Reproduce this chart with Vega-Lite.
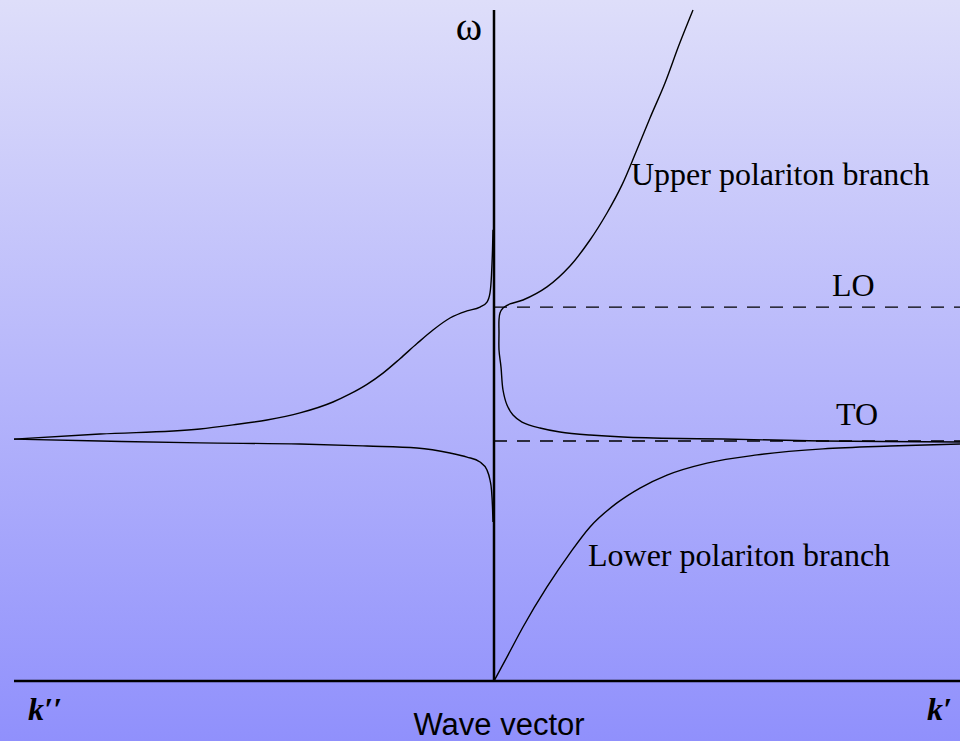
{
  "$schema": "https://vega.github.io/schema/vega-lite/v6.json",
  "width": 960,
  "height": 741,
  "padding": 0,
  "autosize": {"type": "none"},
  "config": {"view": {"stroke": null}},
  "datasets": {
    "upper": [
      {"i": 1, "k": 1.99, "w": 2.796},
      {"i": 2, "k": 1.85, "w": 2.65},
      {"i": 3, "k": 1.71, "w": 2.492},
      {"i": 4, "k": 1.56, "w": 2.346},
      {"i": 5, "k": 1.42, "w": 2.204},
      {"i": 6, "k": 1.28, "w": 2.067},
      {"i": 7, "k": 1.13, "w": 1.95},
      {"i": 8, "k": 0.96, "w": 1.8375},
      {"i": 9, "k": 0.76, "w": 1.729},
      {"i": 10, "k": 0.53, "w": 1.642},
      {"i": 11, "k": 0.29, "w": 1.5875},
      {"i": 12, "k": 0.16, "w": 1.571},
      {"i": 13, "k": 0.09, "w": 1.554},
      {"i": 14, "k": 0.06, "w": 1.533},
      {"i": 15, "k": 0.05, "w": 1.504},
      {"i": 16, "k": 0.05, "w": 1.45},
      {"i": 17, "k": 0.05, "w": 1.379},
      {"i": 18, "k": 0.07, "w": 1.308},
      {"i": 19, "k": 0.09, "w": 1.2125},
      {"i": 20, "k": 0.13, "w": 1.15},
      {"i": 21, "k": 0.19, "w": 1.108},
      {"i": 22, "k": 0.28, "w": 1.079},
      {"i": 23, "k": 0.46, "w": 1.054},
      {"i": 24, "k": 0.66, "w": 1.0375},
      {"i": 25, "k": 0.96, "w": 1.025},
      {"i": 26, "k": 1.29, "w": 1.0167},
      {"i": 27, "k": 1.86, "w": 1.0104},
      {"i": 28, "k": 2.29, "w": 1.0083},
      {"i": 29, "k": 3.29, "w": 1.0},
      {"i": 30, "k": 4.66, "w": 0.996}
    ],
    "others": [
      {"series": "lower", "k": 0, "w": 0},
      {"series": "lower", "k": 0.14, "w": 0.108},
      {"series": "lower", "k": 0.29, "w": 0.225},
      {"series": "lower", "k": 0.53, "w": 0.392},
      {"series": "lower", "k": 0.76, "w": 0.533},
      {"series": "lower", "k": 0.96, "w": 0.642},
      {"series": "lower", "k": 1.23, "w": 0.742},
      {"series": "lower", "k": 1.46, "w": 0.804},
      {"series": "lower", "k": 1.73, "w": 0.858},
      {"series": "lower", "k": 2.13, "w": 0.908},
      {"series": "lower", "k": 2.63, "w": 0.942},
      {"series": "lower", "k": 3.29, "w": 0.967},
      {"series": "lower", "k": 3.96, "w": 0.979},
      {"series": "lower", "k": 4.66, "w": 0.9875},
      {"series": "imag_up", "k": -4.8, "w": 1.008},
      {"series": "imag_up", "k": -3.94, "w": 1.029},
      {"series": "imag_up", "k": -2.94, "w": 1.05},
      {"series": "imag_up", "k": -2.61, "w": 1.067},
      {"series": "imag_up", "k": -2.27, "w": 1.0875},
      {"series": "imag_up", "k": -1.94, "w": 1.117},
      {"series": "imag_up", "k": -1.61, "w": 1.1625},
      {"series": "imag_up", "k": -1.44, "w": 1.196},
      {"series": "imag_up", "k": -1.27, "w": 1.236},
      {"series": "imag_up", "k": -1.11, "w": 1.283},
      {"series": "imag_up", "k": -0.94, "w": 1.343},
      {"series": "imag_up", "k": -0.77, "w": 1.406},
      {"series": "imag_up", "k": -0.61, "w": 1.4625},
      {"series": "imag_up", "k": -0.44, "w": 1.5125},
      {"series": "imag_up", "k": -0.27, "w": 1.542},
      {"series": "imag_up", "k": -0.14, "w": 1.558},
      {"series": "imag_up", "k": -0.07, "w": 1.579},
      {"series": "imag_up", "k": -0.04, "w": 1.617},
      {"series": "imag_up", "k": -0.025, "w": 1.692},
      {"series": "imag_up", "k": -0.015, "w": 1.796},
      {"series": "imag_up", "k": -0.01, "w": 1.88},
      {"series": "imag_low", "k": -4.8, "w": 1.008},
      {"series": "imag_low", "k": -3.94, "w": 1.0},
      {"series": "imag_low", "k": -2.94, "w": 0.992},
      {"series": "imag_low", "k": -1.94, "w": 0.9875},
      {"series": "imag_low", "k": -1.27, "w": 0.979},
      {"series": "imag_low", "k": -0.77, "w": 0.971},
      {"series": "imag_low", "k": -0.44, "w": 0.95},
      {"series": "imag_low", "k": -0.27, "w": 0.933},
      {"series": "imag_low", "k": -0.14, "w": 0.9125},
      {"series": "imag_low", "k": -0.07, "w": 0.879},
      {"series": "imag_low", "k": -0.04, "w": 0.8375},
      {"series": "imag_low", "k": -0.025, "w": 0.796},
      {"series": "imag_low", "k": -0.015, "w": 0.725},
      {"series": "imag_low", "k": -0.01, "w": 0.6625}
    ],
    "levels": [
      {"name": "LO", "k0": 0, "k1": 4.66, "w": 1.558},
      {"name": "TO", "k0": 0, "k1": 4.66, "w": 1.0}
    ],
    "axes": [
      {"k0": -4.8, "k1": 4.66, "w0": 0, "w1": 0},
      {"k0": 0, "k1": 0, "w0": 0, "w1": 2.796}
    ],
    "labels_left": [
      {"text": "Upper polariton branch", "k": 1.37, "w": 2.067},
      {"text": "LO", "k": 3.38, "w": 1.604},
      {"text": "TO", "k": 3.42, "w": 1.067},
      {"text": "Lower polariton branch", "k": 0.94, "w": 0.479}
    ],
    "omega": [{"text": "ω", "k": -0.25, "w": 2.671}],
    "xtitle": [{"text": "Wave vector", "k": 0.05, "w": -0.225}],
    "klabels": [
      {"text": "k′′", "k": -4.66, "w": -0.1625},
      {"text": "k′", "k": 4.33, "w": -0.1625}
    ]
  },
  "layer": [
    {
      "data": {"values": [{}]},
      "mark": {
        "type": "rect",
        "color": {
          "gradient": "linear",
          "x1": 0, "y1": 0, "x2": 0, "y2": 1,
          "stops": [
            {"offset": 0, "color": "#dedefa"},
            {"offset": 1, "color": "#9090fc"}
          ]
        }
      },
      "encoding": {}
    },
    {
      "data": {"name": "upper"},
      "mark": {"type": "line", "color": "black", "strokeWidth": 1.4, "interpolate": "catmull-rom"},
      "encoding": {
        "x": {"field": "k", "type": "quantitative", "scale": {"domain": [-4.94, 4.66], "nice": false, "zero": false}, "axis": null},
        "y": {"field": "w", "type": "quantitative", "scale": {"domain": [-0.25, 2.8375], "nice": false, "zero": false}, "axis": null},
        "order": {"field": "i", "type": "quantitative"}
      }
    },
    {
      "data": {"name": "others"},
      "mark": {"type": "line", "color": "black", "strokeWidth": 1.4, "interpolate": "monotone"},
      "encoding": {
        "x": {"field": "k", "type": "quantitative"},
        "y": {"field": "w", "type": "quantitative"},
        "detail": {"field": "series"}
      }
    },
    {
      "data": {"name": "levels"},
      "mark": {"type": "rule", "color": "black", "strokeWidth": 1.3, "strokeDash": [13, 10]},
      "encoding": {
        "x": {"field": "k0", "type": "quantitative"},
        "x2": {"field": "k1"},
        "y": {"field": "w", "type": "quantitative"}
      }
    },
    {
      "data": {"name": "axes"},
      "mark": {"type": "rule", "color": "black", "strokeWidth": 2.5},
      "encoding": {
        "x": {"field": "k0", "type": "quantitative"},
        "x2": {"field": "k1"},
        "y": {"field": "w0", "type": "quantitative"},
        "y2": {"field": "w1"}
      }
    },
    {
      "data": {"name": "labels_left"},
      "mark": {"type": "text", "font": "Liberation Serif", "fontSize": 32, "align": "left", "baseline": "alphabetic", "color": "black"},
      "encoding": {
        "x": {"field": "k", "type": "quantitative"},
        "y": {"field": "w", "type": "quantitative"},
        "text": {"field": "text"}
      }
    },
    {
      "data": {"name": "omega"},
      "mark": {"type": "text", "font": "Liberation Serif", "fontSize": 40, "align": "center", "baseline": "alphabetic", "color": "black"},
      "encoding": {
        "x": {"field": "k", "type": "quantitative"},
        "y": {"field": "w", "type": "quantitative"},
        "text": {"field": "text"}
      }
    },
    {
      "data": {"name": "xtitle"},
      "mark": {"type": "text", "font": "Liberation Sans", "fontSize": 31, "align": "center", "baseline": "alphabetic", "color": "black"},
      "encoding": {
        "x": {"field": "k", "type": "quantitative"},
        "y": {"field": "w", "type": "quantitative"},
        "text": {"field": "text"}
      }
    },
    {
      "data": {"name": "klabels"},
      "mark": {"type": "text", "font": "Liberation Serif", "fontSize": 32, "fontStyle": "italic", "fontWeight": "bold", "align": "left", "baseline": "alphabetic", "color": "black"},
      "encoding": {
        "x": {"field": "k", "type": "quantitative"},
        "y": {"field": "w", "type": "quantitative"},
        "text": {"field": "text"}
      }
    }
  ]
}
